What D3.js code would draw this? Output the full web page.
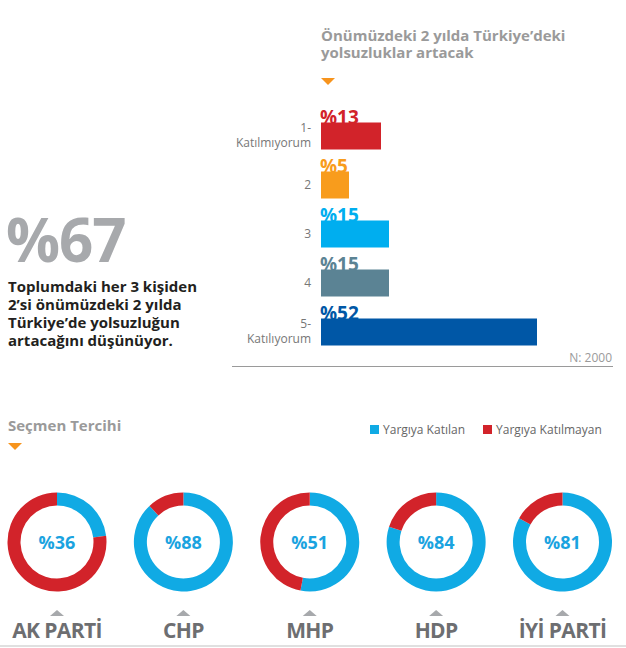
<!DOCTYPE html>
<html><head><meta charset="utf-8">
<script src="https://cdn.jsdelivr.net/npm/d3@7"></script>
<style>body{margin:0;background:#fff} svg{display:block}</style>
</head><body><svg id="c" width="626" height="648"></svg>
<script>
// ---- data ----
const titleLines = ["Önümüzdeki 2 yılda Türkiye’deki", "yolsuzluklar artacak"];
const categories = ["1-\nKatılmıyorum", "2", "3", "4", "5-\nKatılıyorum"];
const values = [13, 5, 15, 15, 52];
const barColors = ["#d2232a", "#f89c1c", "#00aeef", "#5b8394", "#0057a6"];
const sampleNote = "N: 2000";
const bigStat = "%67";
const statLines = ["Toplumdaki her 3 kişiden", "2’si önümüzdeki 2 yılda", "Türkiye’de yolsuzluğun", "artacağını düşünüyor."];
const sectionTitle = "Seçmen Tercihi";
const legendLabels = ["Yargıya Katılan", "Yargıya Katılmayan"];
const ringColors = ["#10aae4", "#d2232a"];
const parties = ["AK PARTİ", "CHP", "MHP", "HDP", "İYİ PARTİ"];
const partyLabels = [36, 88, 51, 84, 81];      // printed in ring centres
const ringBlueShare = [23, 88, 53, 80, 83];    // blue arc share as drawn

const svg = d3.select("#c");
const font = "'Open Sans', sans-serif";
const orange = "#f7941d";

// ---- top-right bar chart ----
const tg = svg.append("g");
tg.selectAll("text.title").data(titleLines).join("text")
  .attr("x", 321).attr("y", (d, i) => 41 + i * 17)
  .attr("font-family", font).attr("font-weight", 700).attr("font-size", 15)
  .attr("fill", "#9a9a9a").text(d => d);
tg.append("path").attr("d", "M321,78 L335,78 L328,85 Z").attr("fill", orange);

const y = d3.scaleBand().domain(categories).range([111.5, 356.5])
  .paddingInner(0.449).paddingOuter(0.2245);
const x = d3.scaleLinear().domain([0, 52]).range([8, 216]);
const x0 = 321;

const rows = tg.selectAll("g.row").data(values.map((v, i) => ({ v, c: categories[i], col: barColors[i] })))
  .join("g").attr("class", "row");
rows.append("text")
  .attr("x", x0 - 1).attr("y", d => y(d.c) + 1)
  .attr("font-family", font).attr("font-weight", 700).attr("font-size", 19)
  .attr("fill", d => d.col).text(d => "%" + d.v);
rows.append("rect")
  .attr("x", x0).attr("y", d => y(d.c)).attr("height", y.bandwidth())
  .attr("width", d => x(d.v)).attr("fill", d => d.col);

// y axis labels (no line)
const yAxis = d3.axisLeft(y).tickSize(0).tickPadding(0).tickFormat("");
const ag = tg.append("g").attr("transform", `translate(${x0 - 10},0)`).call(yAxis);
ag.select(".domain").remove();
ag.selectAll(".tick").each(function (d) {
  const parts = d.split("\n");
  const t = d3.select(this).append("text")
    .attr("text-anchor", "end").attr("font-family", font).attr("font-size", 12)
    .attr("fill", "#777");
  parts.forEach((p, i) => {
    t.append("tspan").attr("x", 0)
      .attr("y", parts.length === 1 ? 4 : (i === 0 ? -4 : 11)).text(p);
  });
});

tg.append("text").attr("x", 612).attr("y", 362).attr("text-anchor", "end")
  .attr("font-family", font).attr("font-size", 12).attr("fill", "#9a9a9a").text(sampleNote);
svg.append("line").attr("x1", 232).attr("x2", 613).attr("y1", 366.5).attr("y2", 366.5)
  .attr("stroke", "#9a9a9a").attr("stroke-width", 1.2);

// ---- left stat ----
svg.append("text").attr("x", 6).attr("y", 262)
  .attr("font-family", font).attr("font-weight", 700).attr("font-size", 60)
  .attr("fill", "#a7a9ac").attr("letter-spacing", -1).text(bigStat);
svg.selectAll("text.stat").data(statLines).join("text")
  .attr("x", 8).attr("y", (d, i) => 292 + i * 18)
  .attr("font-family", font).attr("font-weight", 700).attr("font-size", 15)
  .attr("fill", "#231f20").text(d => d);

// ---- section: Seçmen Tercihi ----
svg.append("text").attr("x", 8).attr("y", 431)
  .attr("font-family", font).attr("font-weight", 700).attr("font-size", 15)
  .attr("fill", "#9a9a9a").text(sectionTitle);
svg.append("path").attr("d", "M8,443 L22,443 L15,450 Z").attr("fill", orange);

// legend
const legX = [370, 483];
const lg = svg.selectAll("g.leg").data(legendLabels).join("g")
  .attr("transform", (d, i) => `translate(${legX[i]},425)`);
lg.append("rect").attr("width", 9).attr("height", 9).attr("fill", (d, i) => ringColors[i]);
lg.append("text").attr("x", 13).attr("y", 9)
  .attr("font-family", font).attr("font-size", 12).attr("fill", "#666").text(d => d);

// donuts
const cx = d3.scalePoint().domain(parties).range([57, 562.5]);
const cy = 542;
const pie = d3.pie().sort(null);
const arc = d3.arc().innerRadius(36.5).outerRadius(49.5);
const dg = svg.selectAll("g.donut").data(parties.map((p, i) => ({ p, lab: partyLabels[i], blue: ringBlueShare[i] })))
  .join("g").attr("class", "donut").attr("transform", d => `translate(${cx(d.p)},${cy})`);
dg.selectAll("path").data(d => pie([d.blue, 100 - d.blue])).join("path")
  .attr("d", arc).attr("fill", (d, i) => ringColors[i]);
dg.append("text").attr("text-anchor", "middle").attr("y", 7)
  .attr("font-family", font).attr("font-weight", 700).attr("font-size", 18)
  .attr("fill", "#1aa3e0").text(d => "%" + d.lab);
dg.append("path").attr("d", "M-7,74 L7,74 L0,68 Z").attr("fill", "#a7a9ac");
dg.append("text").attr("text-anchor", "middle").attr("y", 96)
  .attr("font-family", font).attr("font-weight", 700).attr("font-size", 21)
  .attr("letter-spacing", -0.6).attr("fill", "#6d6e71").text(d => d.p);

svg.append("line").attr("x1", 0).attr("x2", 626).attr("y1", 646).attr("y2", 646)
  .attr("stroke", "#e0e0e0").attr("stroke-width", 2);
</script></body></html>
